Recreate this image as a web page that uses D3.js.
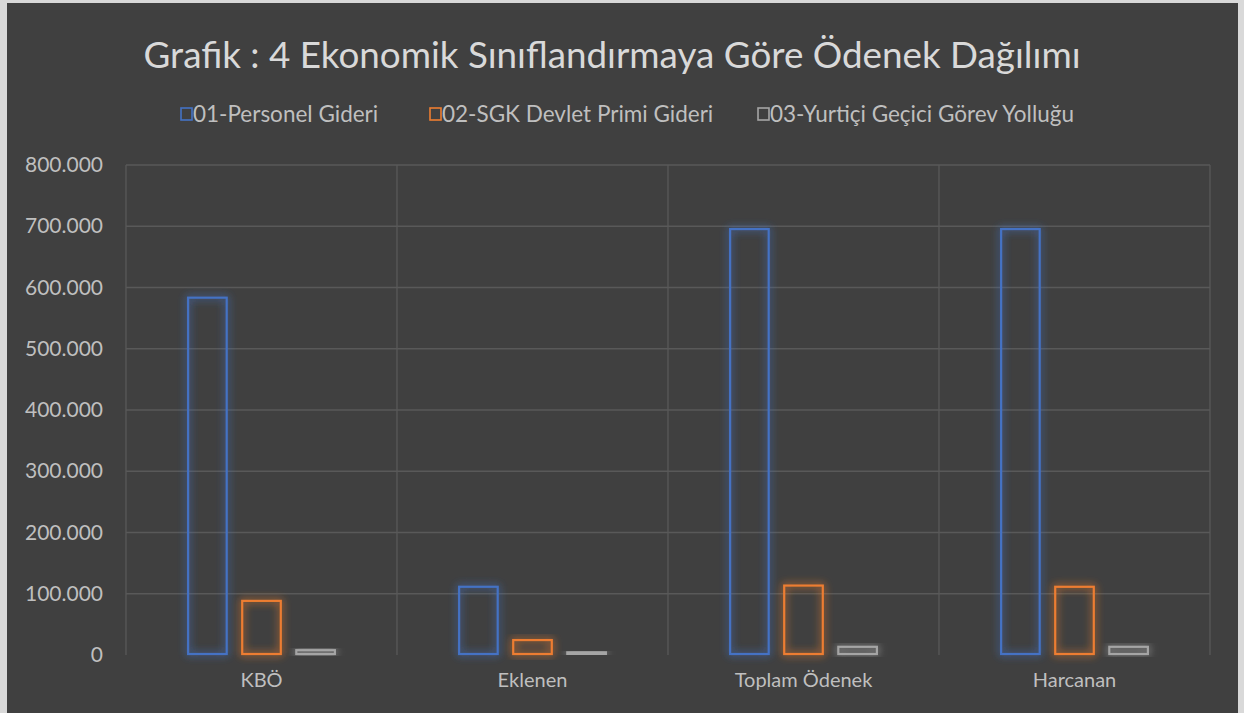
<!DOCTYPE html>
<html>
<head>
<meta charset="utf-8">
<script src="https://cdn.jsdelivr.net/npm/d3@7"></script>
<style>
  html, body { margin: 0; padding: 0; background: #d9d9d9; }
  svg { display: block; }
  text { font-family: Lato, "Open Sans", sans-serif; }
</style>
</head>
<body>
<script>
// chart data
var categories = ["KBÖ", "Eklenen", "Toplam Ödenek", "Harcanan"];
var seriesNames = ["01-Personel Gideri", "02-SGK Devlet Primi Gideri", "03-Yurtiçi Geçici Görev Yolluğu"];
var personel = [585000, 113000, 697000, 697000];
var sgk = [90000, 26000, 115000, 113000];
var yolluk = [9500, 6000, 15000, 15000];
var yTicks = [0, 100000, 200000, 300000, 400000, 500000, 600000, 700000, 800000];
var colors = ["#4472C4", "#ED7D31", "#A5A5A5"];

var W = 1244, H = 713;
var svg = d3.select("body").append("svg").attr("width", W).attr("height", H);

// chart area background
svg.append("rect").attr("x", 7).attr("y", 3).attr("width", 1231).attr("height", 710).attr("fill", "#404040");

var margin = {top: 165, left: 126, right: 34, bottom: 58},
    width = W - margin.left - margin.right,
    height = H - margin.top - margin.bottom;

var defs = svg.append("defs");
colors.forEach(function(c, i) {
  var f = defs.append("filter").attr("id", "glow" + i)
    .attr("x", "-40%").attr("y", "-40%").attr("width", "180%").attr("height", "180%");
  f.append("feGaussianBlur").attr("in", "SourceGraphic").attr("stdDeviation", 4).attr("result", "blur");
  f.append("feComponentTransfer").attr("in", "blur").attr("result", "blur2")
    .append("feFuncA").attr("type", "linear").attr("slope", 1.2);
  var m = f.append("feMerge");
  m.append("feMergeNode").attr("in", "blur2");
  m.append("feMergeNode").attr("in", "SourceGraphic");
});

var g = svg.append("g").attr("transform", "translate(" + margin.left + "," + margin.top + ")");

var x0 = d3.scaleBand().domain(categories).range([0, width]).padding(0);
var x1 = d3.scaleBand().domain([0, 1, 2]).range([0, x0.bandwidth()]).paddingInner(0.25).paddingOuter(1.13);
var y = d3.scaleLinear().domain([0, 800000]).range([height, 0]);

var fmt = function(v) { return v === 0 ? "0" : d3.format(",")(v).replace(/,/g, "."); };

// horizontal grid
g.selectAll(".hgrid").data(yTicks.slice(1)).enter().append("line")
  .attr("x1", 0).attr("x2", width)
  .attr("y1", function(d) { return y(d); }).attr("y2", function(d) { return y(d); })
  .attr("stroke", "#595959").attr("stroke-width", 1.3);

// vertical category separators
g.selectAll(".vgrid").data(categories.concat([null])).enter().append("line")
  .attr("x1", function(d, i) { return i * x0.step(); }).attr("x2", function(d, i) { return i * x0.step(); })
  .attr("y1", 0).attr("y2", height)
  .attr("stroke", "#595959").attr("stroke-width", 1.3);

// y axis labels
var yAxis = g.append("g").call(d3.axisLeft(y).tickValues(yTicks).tickFormat(fmt).tickSize(0).tickPadding(23));
yAxis.select(".domain").remove();
yAxis.attr("font-size", null).attr("font-family", null);
yAxis.selectAll("text").attr("fill", "#bfbfbf").style("font-size", "21px");

// x axis labels
var xAxis = g.append("g").attr("transform", "translate(0," + height + ")")
  .call(d3.axisBottom(x0).tickSize(0).tickPadding(20));
xAxis.select(".domain").remove();
xAxis.attr("font-size", null).attr("font-family", null);
xAxis.selectAll("text").attr("fill", "#bfbfbf").style("font-size", "20px").attr("dy", "0.6em");

var allSeries = [personel, sgk, yolluk];

// bars
categories.forEach(function(cat, ci) {
  allSeries.forEach(function(vals, si) {
    g.append("rect")
      .attr("x", x0(cat) + x1(si) + 1)
      .attr("y", y(vals[ci]) + 1)
      .attr("width", x1.bandwidth() - 2)
      .attr("height", Math.max(0, height - y(vals[ci]) - 2))
      .attr("fill", "none")
      .attr("stroke", colors[si])
      .attr("stroke-width", 2.2)
      .attr("filter", "url(#glow" + si + ")");
  });
});

// title
svg.append("text")
  .attr("x", 612).attr("y", 68)
  .attr("text-anchor", "middle")
  .attr("fill", "#d9d9d9")
  .style("font-size", "36.8px")
  .text("Grafik : 4 Ekonomik Sınıflandırmaya Göre Ödenek Dağılımı");

// legend
var legendX = [180, 429, 757];
var leg = svg.append("g");
seriesNames.forEach(function(name, i) {
  leg.append("rect").attr("x", legendX[i] + 1).attr("y", 108).attr("width", 11).attr("height", 12)
    .attr("fill", "none").attr("stroke", colors[i]).attr("stroke-width", 1.6);
  leg.append("text").attr("x", legendX[i] + 13).attr("y", 122)
    .attr("fill", "#bfbfbf").style("font-size", "22.5px").text(name);
});
</script>
</body>
</html>
